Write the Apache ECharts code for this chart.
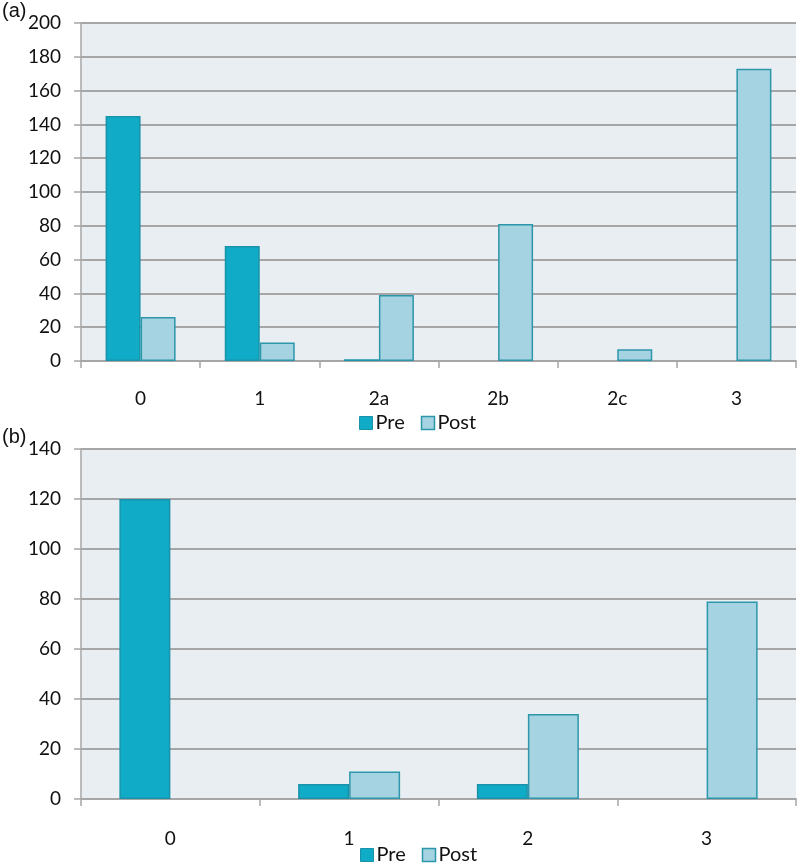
<!DOCTYPE html>
<html>
<head>
<meta charset="utf-8">
<script src="https://cdn.jsdelivr.net/npm/echarts@6/dist/echarts.min.js"></script>
<style>
html,body{margin:0;padding:0;background:#fff;}
#c{width:800px;height:867px;}
</style>
</head>
<body>
<div id="c"></div>
<script>
const catsA = ['0', '1', '2a', '2b', '2c', '3'];
const preA = [145, 68, 1, 0, 0, 0];
const postA = [26, 11, 39, 81, 7, 173];
const ticksA = { min: 0, max: 200, interval: 20 };

const catsB = ['0', '1', '2', '3'];
const preB = [120, 6, 6, 0];
const postB = [0, 11, 34, 79];
const ticksB = { min: 0, max: 140, interval: 20 };

const PRE_COLOR = '#10abc6';
const PRE_BORDER = '#1a93aa';
const POST_COLOR = '#a5d3e1';
const POST_BORDER = '#2c96aa';
const AXIS_GREY = '#a6a6a6';
const FONT = 'Lato, "Open Sans", sans-serif';

function yAxis(idx, t) {
  return {
    type: 'value', gridIndex: idx, min: t.min, max: t.max, interval: t.interval,
    axisLine: { show: true, lineStyle: { color: AXIS_GREY, width: 1.5 } },
    axisTick: { show: true, length: 7, lineStyle: { color: AXIS_GREY, width: 1.5 } },
    splitLine: { show: true, lineStyle: { color: AXIS_GREY, width: 1.8 } },
    axisLabel: { color: '#111', fontSize: 19, fontFamily: FONT, margin: 20 }
  };
}
function xAxis(idx, cats, margin) {
  return {
    type: 'category', gridIndex: idx, data: cats,
    axisLine: { show: true, lineStyle: { color: AXIS_GREY, width: 1.8 } },
    axisTick: { show: true, length: 7, lineStyle: { color: AXIS_GREY, width: 1.5 } },
    axisLabel: { color: '#111', fontSize: 19, fontFamily: FONT, margin: margin }
  };
}
function bar(name, data, idx, color, border, width) {
  return {
    name: name, type: 'bar', xAxisIndex: idx, yAxisIndex: idx,
    data: data.map(v => v === 0 ? { value: 0, itemStyle: { borderWidth: 0, opacity: 0 } } : v),
    barWidth: width, barGap: '0%',
    itemStyle: { color: color, borderColor: border, borderWidth: 1.5 },
    emphasis: { disabled: true }
  };
}
function legend(top, left) {
  return {
    top: top, left: left, itemWidth: 13, itemHeight: 13, itemGap: 16,
    icon: 'rect',
    textStyle: { fontSize: 20, fontFamily: FONT, color: '#111', padding: [0, 0, 0, -2] },
    data: [
      { name: 'Pre', itemStyle: { color: PRE_COLOR, borderColor: PRE_BORDER, borderWidth: 1 } },
      { name: 'Post', itemStyle: { color: POST_COLOR, borderColor: POST_BORDER, borderWidth: 1.5 } }
    ],
    selectedMode: false
  };
}

const chart = echarts.init(document.getElementById('c'), null, { renderer: 'canvas' });
chart.setOption({
  animation: false,
  backgroundColor: '#ffffff',
  title: [
    { text: '(a)', left: 0, top: 0, padding: [1, 2], textStyle: { fontSize: 20, fontWeight: 'normal', fontFamily: 'Liberation Sans, Arial, sans-serif', color: '#111' } },
    { text: '(b)', left: 0, top: 426, padding: [1, 2], textStyle: { fontSize: 20, fontWeight: 'normal', fontFamily: 'Liberation Sans, Arial, sans-serif', color: '#111' } }
  ],
  grid: [
    { left: 81, right: 4, top: 23, height: 338, show: true, backgroundColor: '#e9eef3', borderWidth: 0 },
    { left: 81, right: 4, top: 449, height: 350, show: true, backgroundColor: '#e9eef3', borderWidth: 0 }
  ],
  legend: [legend(408, 354), legend(840, 355)],
  xAxis: [xAxis(0, catsA, 28), xAxis(1, catsB, 30)],
  yAxis: [yAxis(0, ticksA), yAxis(1, ticksB)],
  series: [
    bar('Pre', preA, 0, PRE_COLOR, PRE_BORDER, 35),
    bar('Post', postA, 0, POST_COLOR, POST_BORDER, 35),
    bar('Pre', preB, 1, PRE_COLOR, PRE_BORDER, 51),
    bar('Post', postB, 1, POST_COLOR, POST_BORDER, 51)
  ]
});
</script>
</body>
</html>
